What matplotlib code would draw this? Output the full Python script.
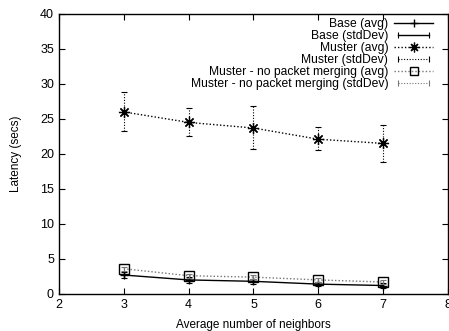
import matplotlib
matplotlib.use("Agg")
import matplotlib.pyplot as plt
from matplotlib.lines import Line2D
from matplotlib.legend_handler import HandlerLine2D

plt.rcParams["font.family"] = ["Liberation Sans", "DejaVu Sans"]
plt.rcParams["font.size"] = 8

neighbors = [3, 4, 5, 6, 7]

base_avg = [2.7, 2.0, 1.8, 1.4, 1.2]
base_std = [0.4, 0.4, 0.4, 0.3, 0.3]

muster_avg = [26.0, 24.5, 23.7, 22.1, 21.5]
muster_lo = [23.3, 22.5, 20.7, 20.5, 18.8]
muster_hi = [28.8, 26.5, 26.8, 23.9, 24.2]

nomerge_avg = [3.6, 2.6, 2.4, 2.0, 1.7]
nomerge_std = [0.3, 0.3, 0.3, 0.3, 0.3]

xticks = [2, 3, 4, 5, 6, 7, 8]
yticks = [0, 5, 10, 15, 20, 25, 30, 35, 40]

asterisk = (8, 2, 0)
grey = "#777777"

fig = plt.figure(figsize=(4.49, 3.31), dpi=100)
ax = fig.add_axes([0.131, 0.112, 0.867, 0.846])

# Base
ax.plot(neighbors, base_avg, color="black", lw=1.0, marker="+", ms=6, mew=1.0)
ax.errorbar(neighbors, base_avg, yerr=base_std, fmt="none", ecolor="black",
            elinewidth=1.0, capsize=2, capthick=0.8)

# Muster
ax.plot(neighbors, muster_avg, color="black", lw=1.0, ls=(0, (1, 1.5)),
        marker=asterisk, ms=8, mew=0.9)
err_lo = [a - l for a, l in zip(muster_avg, muster_lo)]
err_hi = [h - a for a, h in zip(muster_avg, muster_hi)]
eb = ax.errorbar(neighbors, muster_avg, yerr=[err_lo, err_hi], fmt="none",
                 ecolor="black", elinewidth=0.8, capsize=2, capthick=0.8)
eb[2][0].set_linestyle((0, (1, 1.5)))

# Muster - no packet merging
ax.plot(neighbors, nomerge_avg, color=grey, lw=1.0, ls=(0, (1, 1.5)),
        marker="s", ms=7, mfc="none", mec="black", mew=1.0)
ax.errorbar(neighbors, nomerge_avg, yerr=nomerge_std, fmt="none", ecolor=grey,
            elinewidth=0.8, capsize=2, capthick=0.8)

ax.set_xlim(2, 8)
ax.set_ylim(0, 40)
ax.set_xticks(xticks)
ax.set_yticks(yticks)
ax.tick_params(direction="in", top=True, right=True, length=4, width=0.8,
               labelsize=9)
for s in ax.spines.values():
    s.set_linewidth(1.0)
ax.set_xlabel("Average number of neighbors", fontsize=8.5, labelpad=6)
ax.set_ylabel("Latency (secs)", fontsize=8.5, labelpad=13)

# gnuplot-like legend: text right aligned, sample on the right
h_base = Line2D([], [], color="black", lw=1.0, marker="+", ms=6, mew=1.0)
h_base_sd = Line2D([], [], color="black", lw=1.0, marker="|", ms=4, mew=0.8)
h_mus = Line2D([], [], color="black", lw=1.0, ls=(0, (1, 1.5)),
               marker=asterisk, ms=7, mew=0.9)
h_mus_sd = Line2D([], [], color="black", lw=0.8, ls=(0, (1, 1.5)),
                  marker="|", ms=4, mew=0.8)
h_nm = Line2D([], [], color=grey, lw=1.0, ls=(0, (1, 1.5)),
              marker="s", ms=6, mfc="none", mec="black", mew=1.0)
h_nm_sd = Line2D([], [], color=grey, lw=0.8, ls=(0, (1, 1.5)),
                 marker="|", ms=4, mew=0.8)

handles = [h_base, h_base_sd, h_mus, h_mus_sd, h_nm, h_nm_sd]
labels = ["Base (avg)", "Base (stdDev)", "Muster (avg)", "Muster (stdDev)",
          "Muster - no packet merging (avg)",
          "Muster - no packet merging (stdDev)"]
two = HandlerLine2D(numpoints=2)
ax.legend(handles, labels, loc="upper right", bbox_to_anchor=(0.98, 1.012),
          frameon=False, markerfirst=False, numpoints=1, fontsize=8.7,
          handlelength=3.2, handletextpad=0.5, labelspacing=0.0,
          borderaxespad=0.2,
          handler_map={h_base_sd: two, h_mus_sd: two, h_nm_sd: two})

fig.savefig("out.png", dpi=100)
